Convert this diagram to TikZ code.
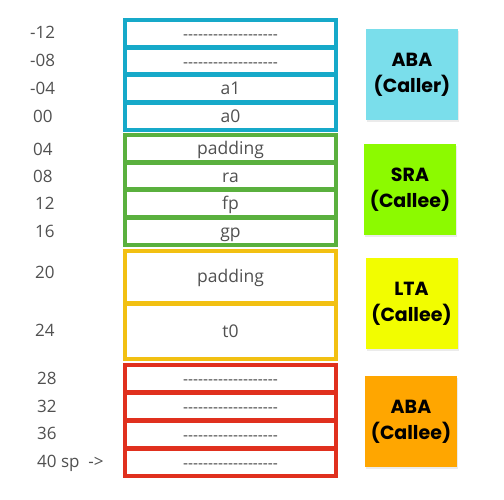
\documentclass[tikz,border=0pt]{standalone}
\usepackage{fontspec}
\setmainfont{Open Sans}
\newfontfamily\boxfont{Poppins}
\usetikzlibrary{positioning}
\definecolor{bframe}{RGB}{22,169,201}
\definecolor{gframe}{RGB}{90,176,62}
\definecolor{yframe}{RGB}{242,192,18}
\definecolor{rframe}{RGB}{224,48,30}
\definecolor{cbox}{RGB}{122,222,235}
\definecolor{gbox}{RGB}{140,250,0}
\definecolor{ybox}{RGB}{242,253,0}
\definecolor{obox}{RGB}{255,166,0}
\definecolor{txt}{RGB}{80,80,80}
\newcommand\dashrow{\mbox{-}\mbox{-}\mbox{-}\mbox{-}\mbox{-}\mbox{-}\mbox{-}\mbox{-}\mbox{-}\mbox{-}\mbox{-}\mbox{-}\mbox{-}\mbox{-}\mbox{-}\mbox{-}\mbox{-}\mbox{-}\mbox{-}}
\tikzset{
  cell/.style={draw=none, inner sep=0pt, outer sep=0pt, minimum width=211pt,
    text height=13pt, text depth=1pt, text=txt, font=\fontsize{17.5}{18}\selectfont},
  dashcell/.style={cell, font=\fontsize{15.5}{18}\selectfont, text=black!70},
  frame/.style={line width=4pt},
  sep/.style={line width=5pt},
  lab/.style={anchor=base west, inner sep=0pt, text=txt, font=\fontsize{17}{18}\selectfont},
  region/.style={inner sep=0pt, minimum width=92pt, minimum height=91pt, align=center,
    font=\boxfont\bfseries\fontsize{19}{26}\selectfont, text=black},
  shadowbox/.style={fill=black, opacity=0.08, inner sep=0pt, minimum width=92pt, minimum height=91pt}
}
\begin{document}
\begin{tikzpicture}[x=1pt,y=-1pt]
\useasboundingbox (0,0) rectangle (504,500);
% blue group
\node[dashcell, minimum height=27.5pt] (b1) at (230.5,33.75) {\dashrow};
\node[dashcell, minimum height=27.5pt] (b2) at (230.5,61.25) {\dashrow};
\node[cell, minimum height=27.5pt] (b3) at (230.5,88.75) {a1};
\node[cell, minimum height=27.5pt] (b4) at (230.5,116.25) {a0};
\draw[sep, bframe] (b1.south west) -- (b1.south east);
\draw[sep, bframe] (b2.south west) -- (b2.south east);
\draw[sep, bframe] (b3.south west) -- (b3.south east);
\draw[frame, bframe] (b1.north west) rectangle (b4.south east);
% green group
\node[cell, minimum height=27.5pt] (g1) at (230.5,148.75) {padding};
\node[cell, minimum height=27.5pt] (g2) at (230.5,176.25) {ra};
\node[cell, minimum height=27.5pt] (g3) at (230.5,203.75) {fp};
\node[cell, minimum height=27.5pt] (g4) at (230.5,231.25) {gp};
\draw[sep, gframe] (g1.south west) -- (g1.south east);
\draw[sep, gframe] (g2.south west) -- (g2.south east);
\draw[sep, gframe] (g3.south west) -- (g3.south east);
\draw[frame, gframe] (g1.north west) rectangle (g4.south east);
% yellow group
\node[cell, minimum height=52pt] (y1) at (230.5,277) {padding};
\node[cell, minimum height=56pt] (y2) at (230.5,331) {t0};
\draw[sep, yframe] (y1.south west) -- (y1.south east);
\draw[frame, yframe] (y1.north west) rectangle (y2.south east);
% red group
\node[dashcell, minimum height=27.75pt] (r1) at (230.5,378.875) {\dashrow};
\node[dashcell, minimum height=27.75pt] (r2) at (230.5,406.625) {\dashrow};
\node[dashcell, minimum height=27.75pt] (r3) at (230.5,434.375) {\dashrow};
\node[dashcell, minimum height=27.75pt] (r4) at (230.5,462.125) {\dashrow};
\draw[sep, rframe] (r1.south west) -- (r1.south east);
\draw[sep, rframe] (r2.south west) -- (r2.south east);
\draw[sep, rframe] (r3.south west) -- (r3.south east);
\draw[frame, rframe] (r1.north west) rectangle (r4.south east);
% offset labels
\node[lab] (lm12) at (30,39) {-12};
\node[lab] (lm08) at (30,67) {-08};
\node[lab] (lm04) at (30,95) {-04};
\node[lab] (l00) at (33,123) {00};
\node[lab] (l04) at (33,156) {04};
\node[lab] (l08) at (33,183) {08};
\node[lab] (l12) at (35,210) {12};
\node[lab] (l16) at (35,237) {16};
\node[lab] (l20) at (35,279) {20};
\node[lab] (l24) at (35,336) {24};
\node[lab] (l28) at (37,384) {28};
\node[lab] (l32) at (37,412) {32};
\node[lab] (l36) at (37,439) {36};
\node[lab] (l40) at (37,467) {40 sp\ \ ->};
% region boxes
\node[shadowbox] (s1) at (413,77) {};
\node[region, fill=cbox] (abaer) at (412,75) {ABA\\(Caller)};
\node[shadowbox] (s2) at (411,191.5) {};
\node[region, fill=gbox] (sra) at (410,189.5) {SRA\\(Callee)};
\node[shadowbox] (s3) at (412.5,305.5) {};
\node[region, fill=ybox] (lta) at (411.5,303.5) {LTA\\(Callee)};
\node[shadowbox] (s4) at (412,423.5) {};
\node[region, fill=obox] (abaee) at (411,421.5) {ABA\\(Callee)};
\end{tikzpicture}
\end{document}
